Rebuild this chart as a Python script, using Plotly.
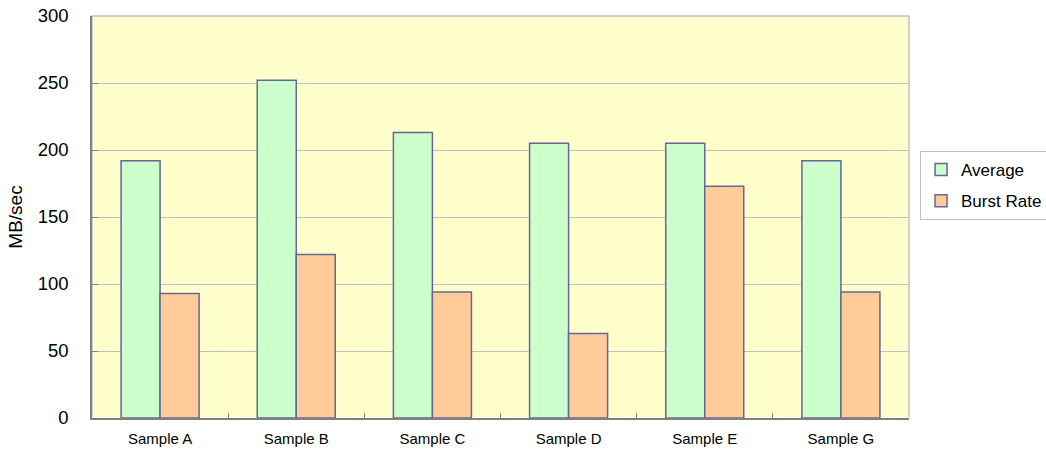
import plotly.graph_objects as go

categories = ["Sample A", "Sample B", "Sample C", "Sample D", "Sample E", "Sample G"]
average = [192, 252, 213, 205, 205, 192]
burst_rate = [93, 122, 94, 63, 173, 94]
y_ticks = [0, 50, 100, 150, 200, 250, 300]

fig = go.Figure()
fig.add_trace(go.Bar(name="Average", x=categories, y=average, legendgroup="a",
                     marker=dict(color="#CCFFCC", line=dict(color="#666699", width=1.5))))
fig.add_trace(go.Bar(name="Burst Rate", x=categories, y=burst_rate, legendgroup="b",
                     marker=dict(color="#FFCC99", line=dict(color="#666699", width=1.5))))

fig.update_layout(
    width=1046, height=456,
    margin=dict(l=92, r=137, t=16, b=38, autoexpand=False),
    paper_bgcolor="white",
    plot_bgcolor="#FFFFCC",
    barmode="group",
    bargap=0.427,
    bargroupgap=0,
    font=dict(family="Liberation Sans, Arial, sans-serif", color="black"),
    legend=dict(x=1.0135, y=0.664, xanchor="left", yanchor="top",
                bgcolor="white", bordercolor="#c0c0c0", borderwidth=1,
                font=dict(size=17), itemwidth=30, traceorder="grouped",
                tracegroupgap=6),
    showlegend=True,
)
fig.update_xaxes(
    showline=True, linecolor="#808080", linewidth=1.5,
    ticks="inside", tickson="boundaries", ticklen=5, tickcolor="#808080",
    tickfont=dict(size=15), showgrid=False, ticklabelstandoff=6,
)
fig.update_yaxes(
    range=[0, 300], tickvals=y_ticks,
    showline=True, linecolor="#808080", linewidth=1.5,
    ticks="inside", ticklen=6, tickcolor="#808080",
    gridcolor="#c0c0c0", gridwidth=1,
    tickfont=dict(size=18.5), ticklabelstandoff=18,
    title=dict(text="MB/sec", font=dict(size=19), standoff=10),
)
fig.add_shape(type="rect", xref="paper", yref="paper", x0=0, y0=0, x1=1, y1=1,
              line=dict(color="#c0c0c0", width=1.5), layer="below")
fig.write_html("out.html", config={"displayModeBar": False},
               post_script="document.body.style.margin='0';")
